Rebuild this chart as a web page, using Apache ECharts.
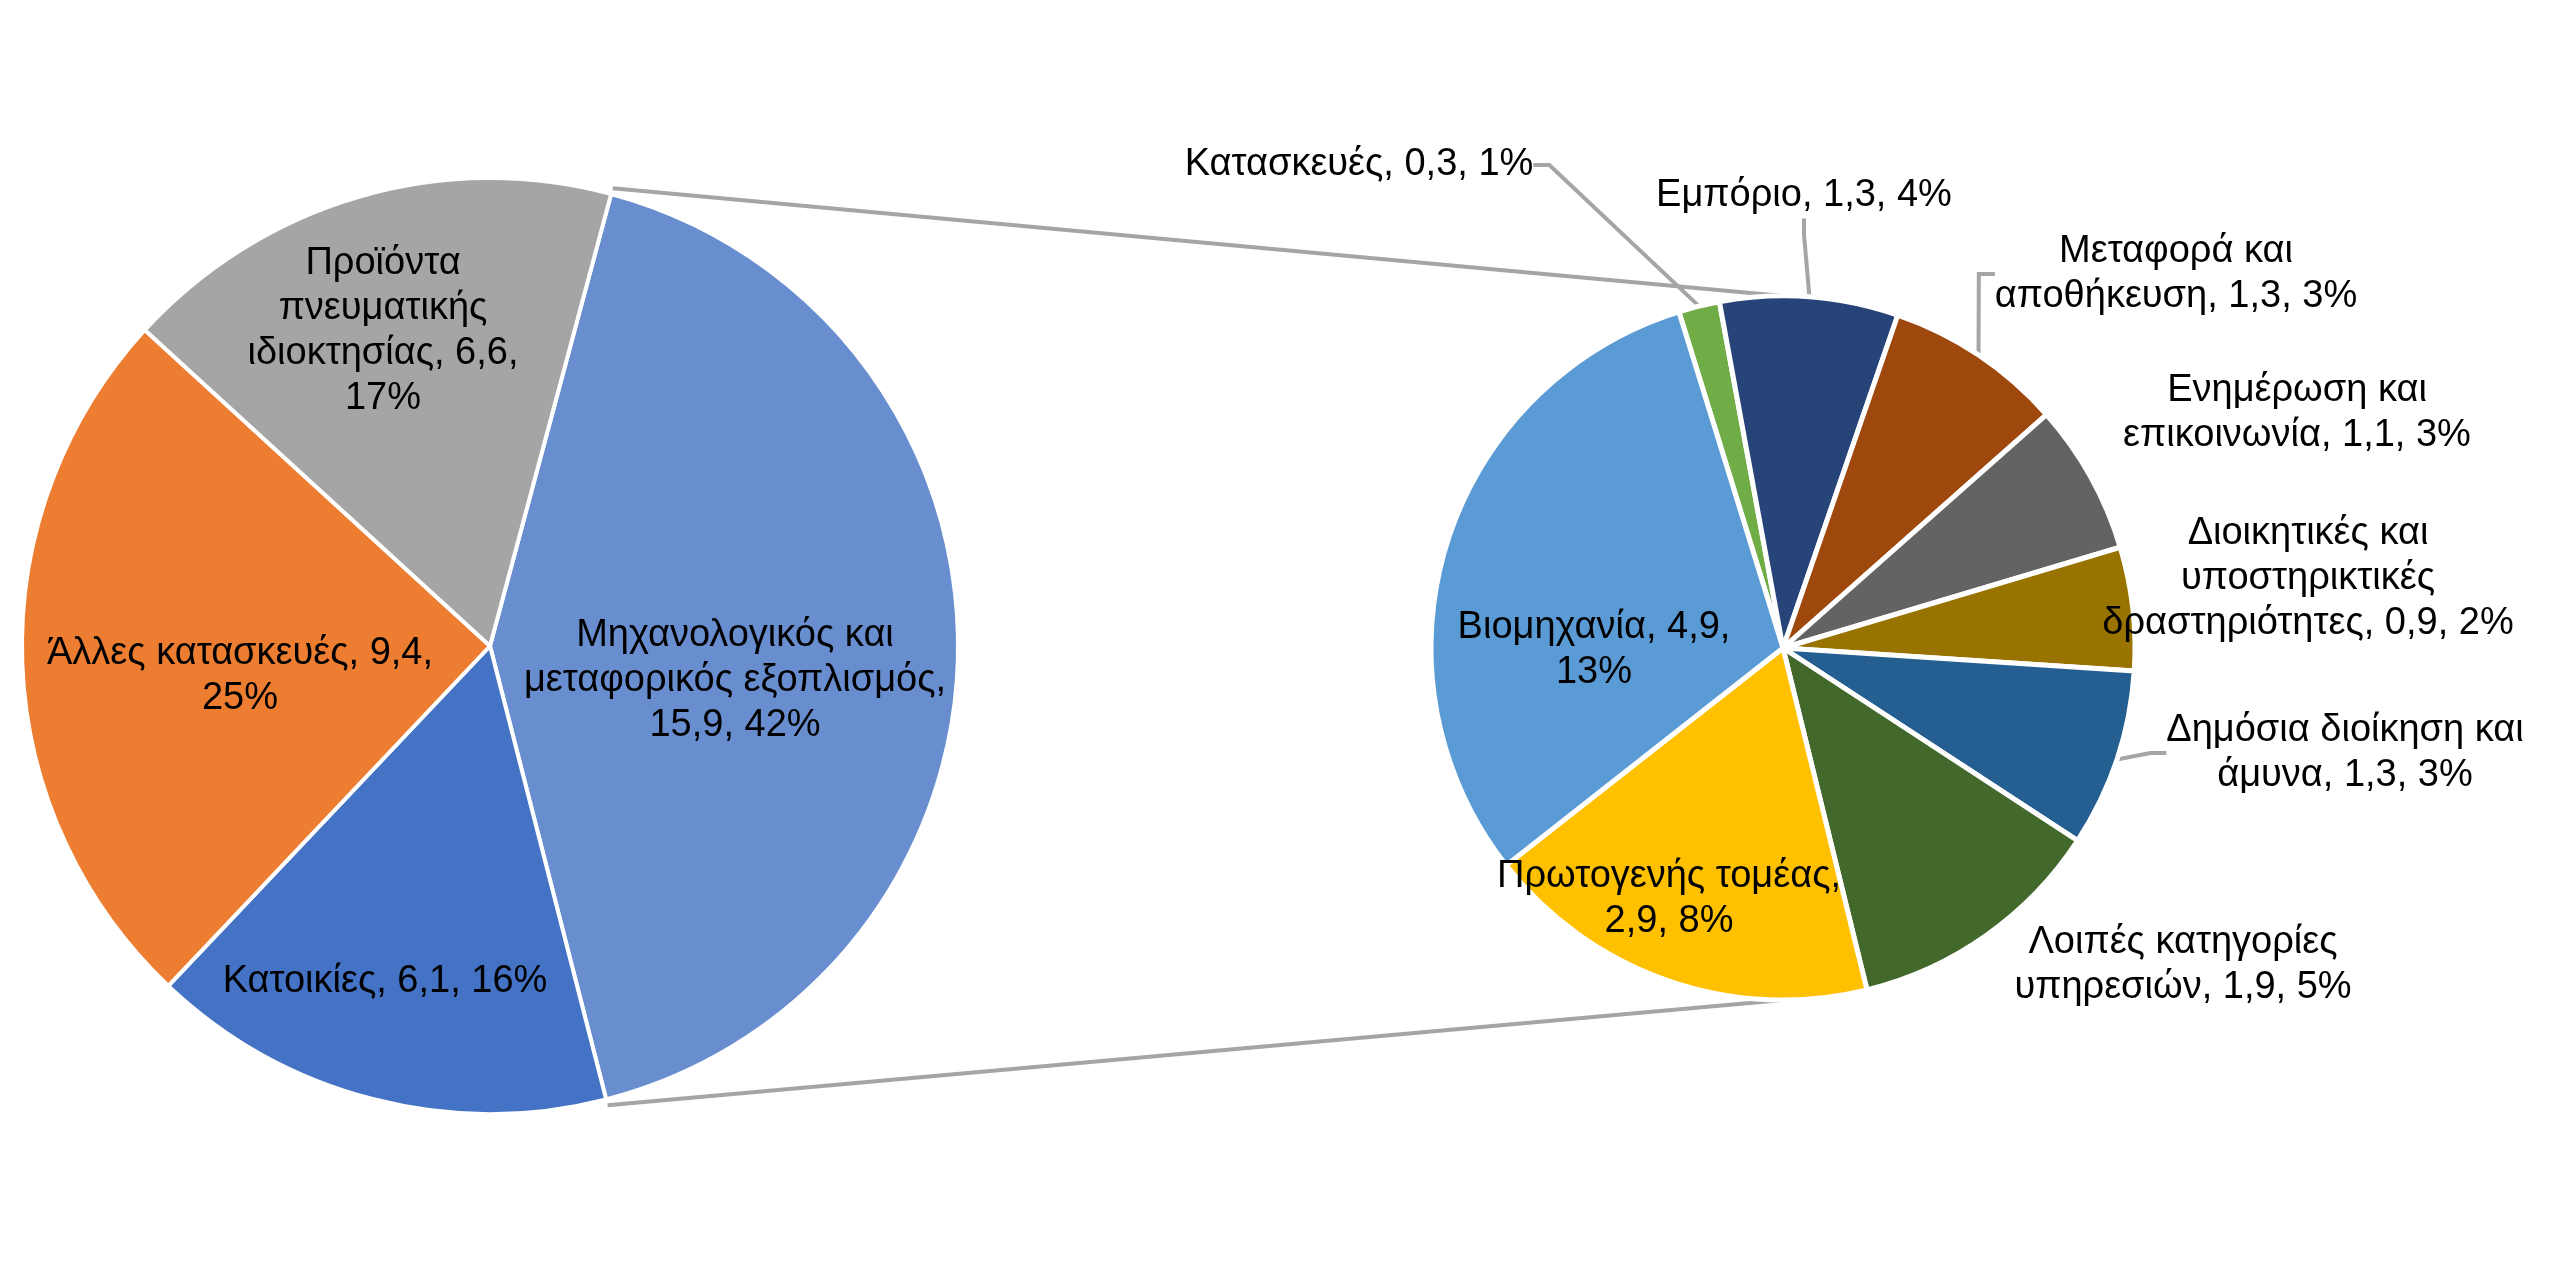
<!DOCTYPE html>
<html>
<head>
<meta charset="utf-8">
<title>Pie of pie</title>
<script src="https://cdn.jsdelivr.net/npm/echarts@6/dist/echarts.min.js"></script>
<style>
html, body { margin: 0; padding: 0; background: #fff; }
#chart { width: 2560px; height: 1280px; }
</style>
</head>
<body>
<div id="chart"></div>
<script>
// main pie
var mainNames = ['Μηχανολογικός και μεταφορικός εξοπλισμός', 'Κατοικίες', 'Άλλες κατασκευές', 'Προϊόντα πνευματικής ιδιοκτησίας'];
var mainValues = [15.9, 6.1, 9.4, 6.6];
var mainPct = [42, 16, 25, 17];
var mainColors = ['#698ED0', '#4472C4', '#ED7D31', '#A5A5A5'];

// breakdown of the first slice
var subNames = ['Κατασκευές', 'Εμπόριο', 'Μεταφορά και αποθήκευση', 'Ενημέρωση και επικοινωνία',
  'Διοικητικές και υποστηρικτικές δραστηριότητες', 'Δημόσια διοίκηση και άμυνα',
  'Λοιπές κατηγορίες υπηρεσιών', 'Πρωτογενής τομέας', 'Βιομηχανία'];
var subValues = [0.3, 1.3, 1.3, 1.1, 0.9, 1.3, 1.9, 2.9, 4.9];
var subPct = [1, 4, 3, 3, 2, 3, 5, 8, 13];
var subColors = ['#70AD47', '#264478', '#9E480E', '#636363', '#997300', '#255E91', '#43682B', '#FFC000', '#5B9BD5'];

// layout
var L = { cx: 490, cy: 646, r: 468, start: 75 };
var R = { cx: 1783, cy: 648, r: 352, start: 107.2 };
var mainWrap = [23, 30, 22, 17];
var subWrap = [30, 30, 20, 20, 23, 20, 18, 18, 16];
var mainLabelOff = [[245, 35], [-105, 336], [-250, 30], [-107, -315]];
var subLabelOff = [[-424, -483], [21, -452], [393, -374], [514, -235], [525, -69], [562, 105], [400, 317], [-114, 251], [-189, 2]];
var subLine = [true, true, true, false, false, true, false, false, false];
var subInside = [false, false, false, false, false, false, false, true, true];
var FONT = '"Liberation Sans", Arial, sans-serif';

function fmt(v) { return v.toFixed(1).replace('.', ','); }
function wrap(text, max) {
  var words = text.split(' '), lines = [], cur = '';
  words.forEach(function (w) {
    if (!cur) cur = w;
    else if ((cur + ' ' + w).length <= max) cur += ' ' + w;
    else { lines.push(cur); cur = w; }
  });
  lines.push(cur);
  return lines.join('\n');
}
function labelText(name, v, p, max) {
  return wrap(name + ', ' + fmt(v) + ', ' + p + '%', max);
}

var total = mainValues.reduce(function (a, b) { return a + b; }, 0);
var a0 = (90 - L.start) * Math.PI / 180;
var a1 = a0 + mainValues[0] / total * 2 * Math.PI;
var rr = L.r + 6;

var chart = echarts.init(document.getElementById('chart'));
chart.setOption({
  backgroundColor: '#fff',
  animation: false,
  graphic: [
    {
      type: 'line', z: 0,
      shape: { x1: L.cx + rr * Math.sin(a0), y1: L.cy - rr * Math.cos(a0), x2: R.cx, y2: R.cy - R.r },
      style: { stroke: '#A5A5A5', lineWidth: 4 }
    },
    {
      type: 'line', z: 0,
      shape: { x1: L.cx + rr * Math.sin(a1), y1: L.cy - rr * Math.cos(a1), x2: R.cx, y2: R.cy + R.r },
      style: { stroke: '#A5A5A5', lineWidth: 4 }
    }
  ],
  series: [
    {
      type: 'pie',
      center: [L.cx, L.cy],
      radius: L.r,
      startAngle: L.start,
      clockwise: true,
      avoidLabelOverlap: false,
      silent: true,
      itemStyle: { borderColor: '#fff', borderWidth: 4 },
      label: { position: 'inside', color: '#000', fontSize: 38, lineHeight: 45, fontFamily: FONT, align: 'center' },
      labelLine: { show: false },
      labelLayout: function (p) {
        var o = mainLabelOff[p.dataIndex];
        return { x: L.cx + o[0], y: L.cy + o[1], align: 'center', verticalAlign: 'middle' };
      },
      data: mainNames.map(function (n, i) {
        return {
          name: n, value: mainValues[i],
          itemStyle: { color: mainColors[i] },
          label: { formatter: labelText(n, mainValues[i], mainPct[i], mainWrap[i]) }
        };
      })
    },
    {
      type: 'pie',
      center: [R.cx, R.cy],
      radius: R.r,
      startAngle: R.start,
      clockwise: true,
      avoidLabelOverlap: false,
      silent: true,
      itemStyle: { borderColor: '#fff', borderWidth: 5 },
      label: { position: 'outside', color: '#000', fontSize: 38, lineHeight: 45, fontFamily: FONT, align: 'center' },
      labelLine: { show: true, length: 10, length2: 16, lineStyle: { color: '#A5A5A5', width: 4 } },
      labelLayout: function (p) {
        var o = subLabelOff[p.dataIndex];
        return { x: R.cx + o[0], y: R.cy + o[1], align: 'center', verticalAlign: 'middle' };
      },
      data: subNames.map(function (n, i) {
        return {
          name: n, value: subValues[i],
          itemStyle: { color: subColors[i] },
          label: {
            position: subInside[i] ? 'inside' : 'outside',
            formatter: labelText(n, subValues[i], subPct[i], subWrap[i])
          },
          labelLine: { show: subLine[i] }
        };
      })
    }
  ]
});
</script>
</body>
</html>
